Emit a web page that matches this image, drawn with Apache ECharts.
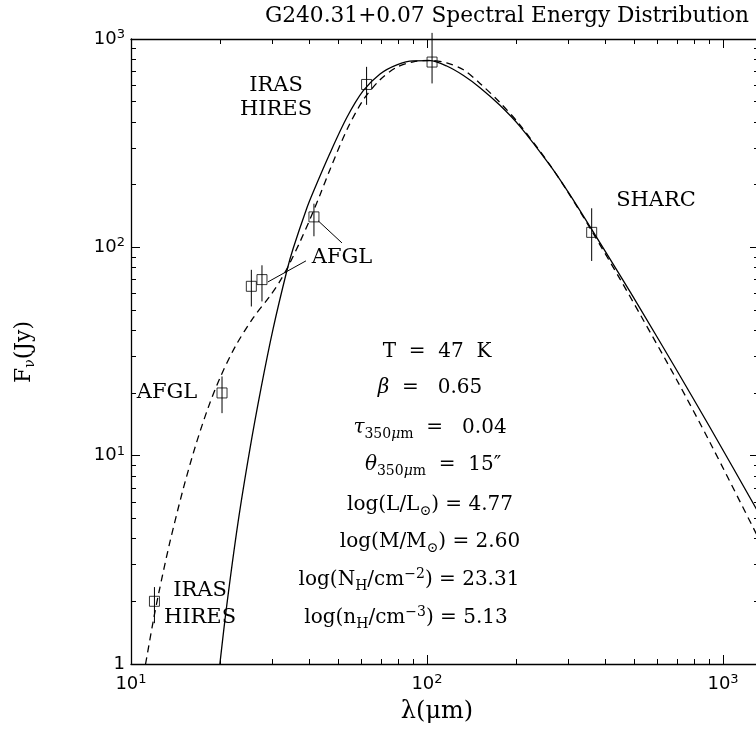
<!DOCTYPE html>
<html><head><meta charset="utf-8">
<script src="https://cdn.jsdelivr.net/npm/echarts@6/dist/echarts.min.js"></script>
<style>html,body{margin:0;padding:0;background:#fff;overflow:hidden}#c{width:756px;height:734px}</style>
</head><body><div id="c"></div>
<script>
const chartTitle = 'G240.31+0.07 Spectral Energy Distribution';
// observed photometry (wavelength in micron, flux in Jy)
const obsWavelength = [12, 20.3, 25.5, 27.7, 41.5, 62.5, 104, 360];
const obsFlux       = [2.0, 20, 65, 70, 140, 605, 775, 118];
const obsLow        = [1.57, 16, 52, 55, 113, 483, 612, 86];
const obsHigh       = [2.34, 24, 78, 82, 162, 735, 1070, 154];
// single-temperature greybody fit (solid)
const solidWavelength = [19.8, 21.0, 23.0, 25.2, 27.5, 30.2, 33.6, 35.3, 39.3, 41.3, 47.0, 53.6, 60.9, 69.4, 79.1, 89.9, 102.4, 116.6, 132.8, 151, 176, 206, 260, 300, 360, 450, 525, 700, 900, 1292, 1340];
const solidFlux       = [0.9, 1.85, 4.8, 10.7, 21.1, 40.6, 77, 98.7, 155, 185, 283, 420, 565, 680, 752, 786, 787, 742, 668, 584, 482, 381, 248, 184, 122, 73, 50.8, 25.5, 13.8, 5.6, 5.1];
// model including warm component (dashed)
const dashedWavelength = [11.2, 11.9, 12.4, 13.5, 15.0, 16.5, 18.2, 20.0, 22.5, 25.9, 29.5, 31.9, 34.4, 37.2, 40.3, 43.6, 47.0, 53.6, 60.9, 69.4, 79.1, 89.9, 102.4, 116.6, 132.8, 151, 176, 206, 260, 300, 360, 450, 525, 700, 900, 1292, 1340];
const dashedFlux       = [1.0, 1.62, 2.18, 3.79, 6.9, 11.1, 16.9, 23.7, 33.4, 46, 58.5, 69, 84, 106, 137, 180, 236, 366, 510, 637, 733, 777, 789, 768, 712, 612, 497, 387, 249, 183, 120, 70, 47.6, 22.9, 11.7, 4.25, 3.85];
// leader lines from points to labels [x1, y1, x2, y2] in data units
const leaderLines = [[29.0, 68.2, 39.0, 86.1], [42.9, 134, 51.6, 105]];
// ticks
const xMajorTicks = [10, 100, 1000];
const xMinorTicks = [20, 30, 40, 50, 60, 70, 80, 90, 200, 300, 400, 500, 600, 700, 800, 900];
const yMajorTicks = [1, 10, 100, 1000];
const yMinorTicks = [2, 3, 4, 5, 6, 7, 8, 9, 20, 30, 40, 50, 60, 70, 80, 90, 200, 300, 400, 500, 600, 700, 800, 900];
const paramLines = [
  'T  =  47  K',
  '{i|β}  =   0.65',
  '{i|τ}{sub|350}{isub|μ}{sub|m}  =   0.04',
  '{i|θ}{sub|350}{isub|μ}{sub|m}  =  15″',
  'log(L/L{sub|⊙}) = 4.77',
  'log(M/M{sub|⊙}) = 2.60',
  'log(N{sub|H}/cm{sup|−2}) = 23.31',
  'log(n{sub|H}/cm{sup|−3}) = 5.13'
];

const XMIN = 10, XMAX = 1323, YMIN = 1, YMAX = 1000;
const serif = 'DejaVu Serif';
const tickFont = 'DejaVu Sans';
const richTick = {
  b: {fontFamily: tickFont, fontSize: 18, color: '#000', lineHeight: 22},
  s: {fontFamily: tickFont, fontSize: 13, color: '#000', verticalAlign: 'top', lineHeight: 12}
};
function fmtX(v) { return '{b|10}{s|' + Math.round(Math.log10(v)) + '}'; }
function fmtY(v) { const e = Math.round(Math.log10(v)); return e === 0 ? '{b|1}' : '{b|10}{s|' + e + '}'; }

function axis(kind, pos, ticks, len, label, fmt, lineShow) {
  const isX = kind === 'x';
  return {
    type: 'log', logBase: 10, gridIndex: 0, position: pos,
    min: isX ? XMIN : YMIN, max: isX ? XMAX : YMAX,
    axisLine: {show: lineShow, lineStyle: {color: '#000', width: 1.3}},
    axisTick: {show: true, inside: true, length: len, customValues: ticks, lineStyle: {color: '#000', width: 1}},
    minorTick: {show: false},
    splitLine: {show: false},
    axisLabel: label ? {show: true, customValues: ticks, formatter: fmt, rich: richTick, margin: isX ? 9 : 6} : {show: false}
  };
}

const chart = echarts.init(document.getElementById('c'), null, {renderer: 'canvas'});
const rich = {
  i: {fontFamily: serif, fontSize: 20, fontStyle: 'italic', fill: '#000', lineHeight: 26},
  sub: {fontFamily: serif, fontSize: 14, fill: '#000', verticalAlign: 'bottom', lineHeight: 14},
  isub: {fontFamily: serif, fontSize: 14, fontStyle: 'italic', fill: '#000', verticalAlign: 'bottom', lineHeight: 14},
  sup: {fontFamily: serif, fontSize: 14, fill: '#000', verticalAlign: 'top', lineHeight: 15}
};
const paramPos = [[437, 352], [430, 388], [430, 428], [433, 465], [430, 505], [430, 542], [409, 580], [406, 618]];
function txt(text, x, y, extra) {
  return {type: 'text', x: x, y: y, silent: true, style: Object.assign({
    text: text, fontFamily: serif, fontSize: 20, fill: '#000', align: 'center', verticalAlign: 'middle', rich: rich, lineHeight: 26
  }, extra || {})};
}
const graphics = [
  txt(chartTitle, 507, 16, {fontSize: 21.7}),
  txt('λ(μm)', 437, 712, {fontSize: 24}),
  Object.assign(txt('F{sub|ν}(Jy)', 24, 352, {fontSize: 22}), {rotation: Math.PI / 2}),
  txt('IRAS\nHIRES', 276, 98, {lineHeight: 24, fontSize: 21}),
  txt('AFGL', 342, 258, {fontSize: 21}),
  txt('AFGL', 167, 393, {fontSize: 21}),
  txt('IRAS\nHIRES', 200, 604, {lineHeight: 27, fontSize: 21}),
  txt('SHARC', 656, 201, {fontSize: 21})
];
paramLines.forEach((t, i) => graphics.push(txt(t, paramPos[i][0], paramPos[i][1])));

chart.setOption({
  animation: false,
  backgroundColor: '#fff',
  grid: {left: 131, top: 39, width: 628, height: 625, containLabel: false, outerBoundsMode: 'none'},
  xAxis: [
    axis('x', 'bottom', xMajorTicks, 9, true, fmtX, true),
    axis('x', 'bottom', xMinorTicks, 5, false, null, false),
    axis('x', 'top', xMajorTicks, 9, false, null, true),
    axis('x', 'top', xMinorTicks, 5, false, null, false)
  ],
  yAxis: [
    axis('y', 'left', yMajorTicks, 9, true, fmtY, true),
    axis('y', 'left', yMinorTicks, 5, false, null, false),
    axis('y', 'right', yMajorTicks, 9, false, null, true),
    axis('y', 'right', yMinorTicks, 5, false, null, false)
  ],
  series: [
    {
      type: 'line', xAxisIndex: 0, yAxisIndex: 0, clip: true,
      data: solidWavelength.map((w, i) => [w, solidFlux[i]]),
      showSymbol: false, symbol: 'none', smooth: 0.3,
      lineStyle: {color: '#000', width: 1.3, type: 'solid'}
    },
    {
      type: 'line', xAxisIndex: 0, yAxisIndex: 0, clip: true,
      data: dashedWavelength.map((w, i) => [w, dashedFlux[i]]),
      showSymbol: false, symbol: 'none', smooth: 0.3,
      lineStyle: {color: '#000', width: 1.3, type: [7, 5]}
    },
    {
      type: 'custom', xAxisIndex: 0, yAxisIndex: 0, clip: false, z: 3,
      data: obsWavelength.map((w, i) => [w, obsLow[i], obsHigh[i]]),
      renderItem: function (params, api) {
        const p1 = api.coord([api.value(0), api.value(1)]);
        const p2 = api.coord([api.value(0), api.value(2)]);
        return {type: 'line', shape: {x1: p1[0], y1: p1[1], x2: p2[0], y2: p2[1]}, style: {stroke: '#000', lineWidth: 1}};
      }
    },
    {
      type: 'scatter', xAxisIndex: 0, yAxisIndex: 0, z: 4,
      data: obsWavelength.map((w, i) => [w, obsFlux[i]]),
      symbol: 'rect', symbolSize: 10,
      itemStyle: {color: 'rgba(0,0,0,0)', borderColor: '#000', borderWidth: 1},
      markLine: {
        silent: true, symbol: ['none', 'none'], label: {show: false},
        lineStyle: {color: '#000', width: 1, type: 'solid'},
        data: leaderLines.map(l => [{coord: [l[0], l[1]]}, {coord: [l[2], l[3]]}])
      }
    }
  ],
  graphic: graphics
});
</script>
</body></html>
